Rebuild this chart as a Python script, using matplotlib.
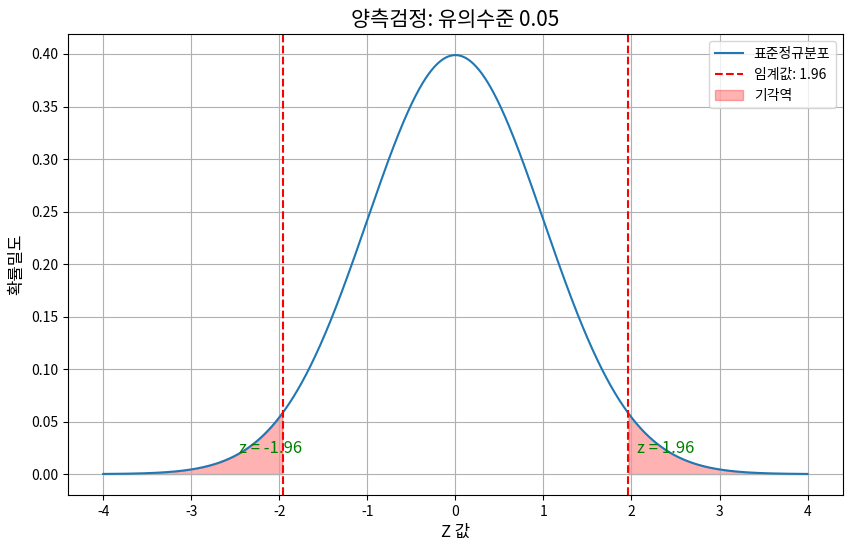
import numpy as np
import matplotlib
matplotlib.use('Agg')
import matplotlib.pyplot as plt

plt.rcParams['font.family'] = ['Noto Sans CJK KR', 'DejaVu Sans']
plt.rcParams['axes.unicode_minus'] = False

alpha = 0.05
z_crit = 1.96
x = np.linspace(-4, 4, 1000)
# standard normal pdf
y = np.exp(-x ** 2 / 2) / np.sqrt(2 * np.pi)

fig = plt.figure(figsize=(8.53, 5.51), dpi=100)
plt.plot(x, y, label='표준정규분포')
plt.axvline(z_crit, color='red', linestyle='--', label=f'임계값: {z_crit}')
plt.axvline(-z_crit, color='red', linestyle='--')
plt.fill_between(x, y, where=(x >= z_crit), color='red', alpha=0.3, label='기각역')
plt.fill_between(x, y, where=(x <= -z_crit), color='red', alpha=0.3)

plt.text(z_crit + 0.1, 0.02, f'z = {z_crit}', color='green', fontsize=12)
plt.text(-z_crit - 0.5, 0.02, f'z = -{z_crit}', color='green', fontsize=12)

plt.title(f'양측검정: 유의수준 {alpha}', fontsize=15)
plt.xlabel('Z 값', fontsize=12)
plt.ylabel('확률밀도', fontsize=12)
plt.legend()
plt.grid(True)
plt.subplots_adjust(left=0.0797, right=0.988, top=0.938, bottom=0.1016)
plt.savefig('out.png')
